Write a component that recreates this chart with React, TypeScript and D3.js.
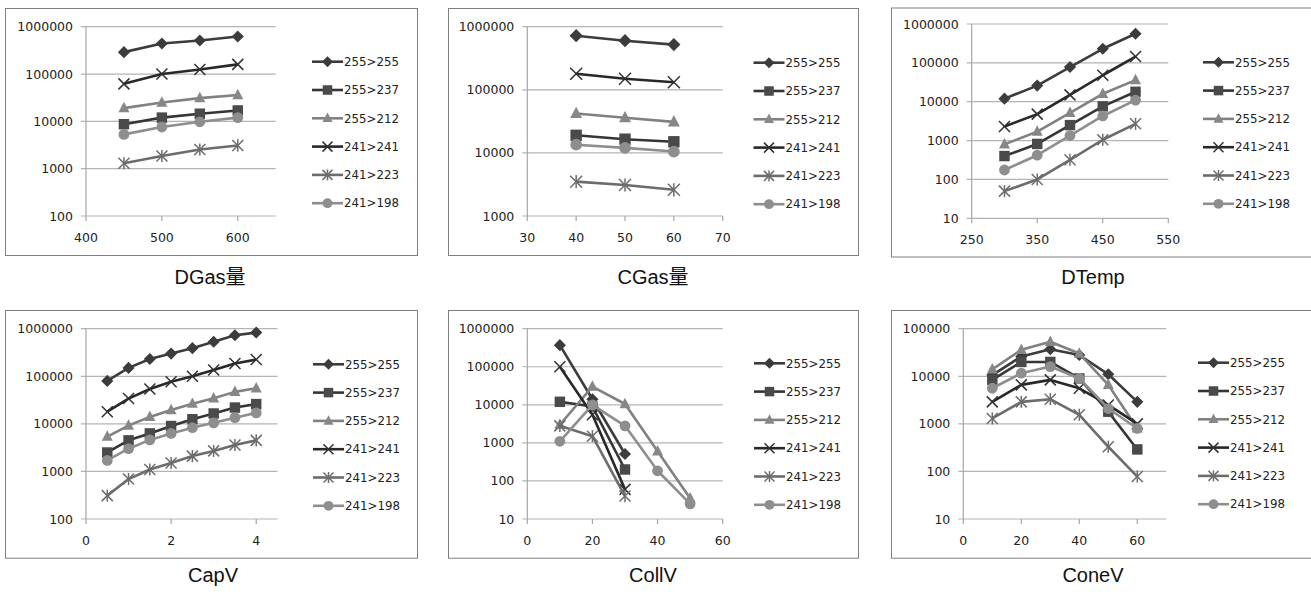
import React from "react";
import * as d3 from "d3";

// ---------- DATA ----------
const seriesNames = ["255>255", "255>237", "255>212", "241>241", "241>223", "241>198"];
const panelTitles = ["DGas量", "CGas量", "DTemp", "CapV", "CollV", "ConeV"];

const dgasX = [450, 500, 550, 600];
const dgasValues = [
  [290000, 440000, 510000, 620000],
  [8700, 12000, 14500, 17000],
  [19000, 25000, 31000, 36000],
  [62000, 100000, 125000, 160000],
  [1300, 1850, 2550, 3100],
  [5300, 7600, 9800, 12000],
];

const cgasX = [40, 50, 60];
const cgasValues = [
  [720000, 600000, 520000],
  [19000, 16500, 15000],
  [42000, 36000, 31000],
  [180000, 150000, 132000],
  [3500, 3100, 2600],
  [13500, 12000, 10500],
];

const dtempX = [300, 350, 400, 450, 500];
const dtempValues = [
  [12000, 26000, 78000, 230000, 560000],
  [400, 820, 2500, 7600, 18000],
  [800, 1700, 5200, 16000, 36000],
  [2300, 4800, 15000, 48000, 145000],
  [50, 100, 320, 1050, 2700],
  [175, 420, 1350, 4300, 11000],
];

const capvX = [0.5, 1, 1.5, 2, 2.5, 3, 3.5, 4];
const capvValues = [
  [80000, 150000, 230000, 300000, 390000, 530000, 730000, 830000],
  [2500, 4500, 6300, 9000, 12500, 16500, 22000, 26000],
  [5400, 9200, 14000, 19500, 26500, 34500, 47000, 56000],
  [18000, 34000, 54000, 77000, 100000, 135000, 185000, 225000],
  [310, 690, 1100, 1500, 2100, 2700, 3600, 4500],
  [1700, 3000, 4600, 6300, 8300, 10500, 13500, 17000],
];

const collvX = [10, 20, 30, 40, 50];
const collvValues: (number | null)[][] = [
  [370000, 14000, 510, null, null],
  [12000, 9000, 200, null, null],
  [3000, 30000, 10500, 600, 35],
  [100000, 5500, 60, null, null],
  [2800, 1500, 40, null, null],
  [1100, 10000, 2800, 185, 25],
];

const conevX = [10, 20, 30, 40, 50, 60];
const conevValues = [
  [10600, 26000, 37000, 28000, 11000, 2900],
  [8400, 20000, 20000, 9000, 1800, 290],
  [14000, 36000, 53000, 30000, 6600, 800],
  [2900, 6600, 8400, 5600, 2500, 1000],
  [1300, 2900, 3300, 1550, 330, 78],
  [5600, 11600, 16000, 9000, 2100, 800],
];

const xDomains = [[400, 650], [30, 70], [250, 550], [0, 4.5], [0, 60], [0, 70]];
const xTickValues = [
  [400, 500, 600],
  [30, 40, 50, 60, 70],
  [250, 350, 450, 550],
  [0, 2, 4],
  [0, 20, 40, 60],
  [0, 20, 40, 60],
];
const yDomains = [[100, 1e6], [1000, 1e6], [10, 1e6], [100, 1e6], [10, 1e6], [10, 1e5]];

const panelXs = [dgasX, cgasX, dtempX, capvX, collvX, conevX];
const panelValues = [dgasValues, cgasValues, dtempValues, capvValues, collvValues, conevValues];

// ---------- STYLE / LAYOUT ----------
const markerTypes = ["diamond", "square", "triangle", "x", "asterisk", "circle"];
const lineColors = ["#3c3c3c", "#353535", "#818181", "#282828", "#6c6c6c", "#8e8e8e"];
const markerColors = ["#3c3c3c", "#4a4a4a", "#878787", "#303030", "#6c6c6c", "#8e8e8e"];

const layouts = [
  { frame: [5, 8, 412, 247], xr: [86, 275.7], yr: [216, 26.7], lx: 312, ly: 61.7, tx: 210, ty: 283.5, ms: 11 },
  { frame: [448, 8, 410, 247], xr: [527.3, 722.7], yr: [216, 26.7], lx: 753.5, ly: 62.7, tx: 653, ty: 283.5, ms: 12 },
  { frame: [891, 7.5, 440, 249], xr: [971.7, 1168.3], yr: [218.3, 24], lx: 1203, ly: 62.3, tx: 1093, ty: 283.5, ms: 11 },
  { frame: [5, 310, 412, 247.7], xr: [86, 277.5], yr: [519, 328.7], lx: 313, ly: 364.3, tx: 213, ty: 581.7, ms: 11 },
  { frame: [448, 310, 410, 247.7], xr: [527.3, 722.7], yr: [519, 328.7], lx: 754, ly: 363.3, tx: 653, ty: 581.7, ms: 11 },
  { frame: [891, 310, 440, 247.7], xr: [963.3, 1166.3], yr: [519, 328.7], lx: 1198, ly: 362.7, tx: 1093, ty: 581.7, ms: 11 },
];

const tickFont = "'DejaVu Sans', sans-serif";
const titleFont = "'Liberation Sans', Arial, 'Noto Sans CJK JP', sans-serif";

function Marker({ type, x, y, color, size }: { type: string; x: number; y: number; color: string; size: number }) {
  const s = size / 2;
  switch (type) {
    case "diamond":
      return <polygon points={`${x},${y - s * 1.1} ${x + s * 1.1},${y} ${x},${y + s * 1.1} ${x - s * 1.1},${y}`} fill={color} />;
    case "square":
      return <rect x={x - s * 0.95} y={y - s * 0.95} width={s * 1.9} height={s * 1.9} fill={color} />;
    case "triangle":
      return <polygon points={`${x},${y - s * 1.15} ${x + s},${y + s * 0.75} ${x - s},${y + s * 0.75}`} fill={color} />;
    case "circle":
      return <circle cx={x} cy={y} r={s * 0.98} fill={color} />;
    case "x":
      return (
        <g stroke={color} strokeWidth={1.5}>
          <line x1={x - s} y1={y - s} x2={x + s} y2={y + s} />
          <line x1={x - s} y1={y + s} x2={x + s} y2={y - s} />
        </g>
      );
    case "asterisk":
      return (
        <g stroke={color} strokeWidth={1.5}>
          <line x1={x - s} y1={y - s} x2={x + s} y2={y + s} />
          <line x1={x - s} y1={y + s} x2={x + s} y2={y - s} />
          <line x1={x} y1={y - s * 1.1} x2={x} y2={y + s * 1.1} />
        </g>
      );
  }
  return null;
}

function Panel({ idx }: { idx: number }) {
  const L = layouts[idx];
  const xs = panelXs[idx];
  const vals = panelValues[idx] as (number | null)[][];
  const x = d3.scaleLinear().domain(xDomains[idx]).range(L.xr);
  const y = d3.scaleLog().domain(yDomains[idx]).range(L.yr);
  const [yMin, yMax] = yDomains[idx];
  const yTicks: number[] = [];
  for (let v = yMin; v <= yMax * 1.0001; v *= 10) yTicks.push(v);
  const line = d3
    .line<[number, number | null]>()
    .defined((d) => d[1] != null)
    .x((d) => x(d[0]))
    .y((d) => y(d[1] as number));
  const [fx, fy, fw, fh] = L.frame;
  const x0 = L.xr[0], x1 = L.xr[1], yb = L.yr[0];
  return (
    <g>
      <rect x={fx + 0.5} y={fy + 0.5} width={fw} height={fh} fill="#fff" stroke="#7f7f7f" strokeWidth={1} />
      {yTicks.map((t) => (
        <line key={"g" + t} x1={x0 - 5} x2={x1} y1={y(t)} y2={y(t)} stroke="#b4b4b4" strokeWidth={1.2} />
      ))}
      <line x1={x0} x2={x0} y1={L.yr[1]} y2={yb + 0} stroke="#a6a6a6" strokeWidth={1.2} />
      {xTickValues[idx].map((t) => (
        <line key={"xt" + t} x1={x(t)} x2={x(t)} y1={yb} y2={yb + 5} stroke="#a6a6a6" strokeWidth={1.2} />
      ))}
      {yTicks.map((t) => (
        <text key={"yl" + t} x={x0 - 13} y={y(t)} dy="0.36em" textAnchor="end" fontFamily={tickFont} fontSize={12.5} fill="#222">
          {String(t)}
        </text>
      ))}
      {xTickValues[idx].map((t) => (
        <text key={"xl" + t} x={x(t)} y={yb + 25.5} textAnchor="middle" fontFamily={tickFont} fontSize={12.5} fill="#222">
          {String(t)}
        </text>
      ))}
      {vals.map((row, si) => {
        const pts = xs.map((xv, i) => [xv, row[i]] as [number, number | null]);
        return (
          <g key={"s" + si}>
            <path d={line(pts) || ""} fill="none" stroke={lineColors[si]} strokeWidth={2.6} strokeLinejoin="round" />
            {pts
              .filter((p) => p[1] != null)
              .map((p, i) => (
                <Marker key={i} type={markerTypes[si]} x={x(p[0])} y={y(p[1] as number)} color={markerColors[si]} size={L.ms} />
              ))}
          </g>
        );
      })}
      {seriesNames.map((n, si) => {
        const ly = L.ly + si * 28.3;
        return (
          <g key={"lg" + si}>
            <line x1={L.lx} x2={L.lx + 31} y1={ly} y2={ly} stroke={lineColors[si]} strokeWidth={2.6} />
            <Marker type={markerTypes[si]} x={L.lx + 15.5} y={ly} color={markerColors[si]} size={10} />
            <text x={L.lx + 32} y={ly} dy="0.36em" fontFamily={tickFont} fontSize={11.8} fill="#222">
              {n}
            </text>
          </g>
        );
      })}
      <text x={L.tx} y={L.ty} textAnchor="middle" fontFamily={titleFont} fontSize={20} fill="#111">
        {panelTitles[idx]}
      </text>
    </g>
  );
}

export default function App() {
  return (
    <svg
      width={1311}
      height={594}
      viewBox="0 0 1311 594"
      style={{ position: "absolute", left: 0, top: 0, background: "#fff" }}
    >
      <rect x={0} y={0} width={1311} height={594} fill="#fff" />
      {layouts.map((_, i) => (
        <Panel key={i} idx={i} />
      ))}
    </svg>
  );
}
